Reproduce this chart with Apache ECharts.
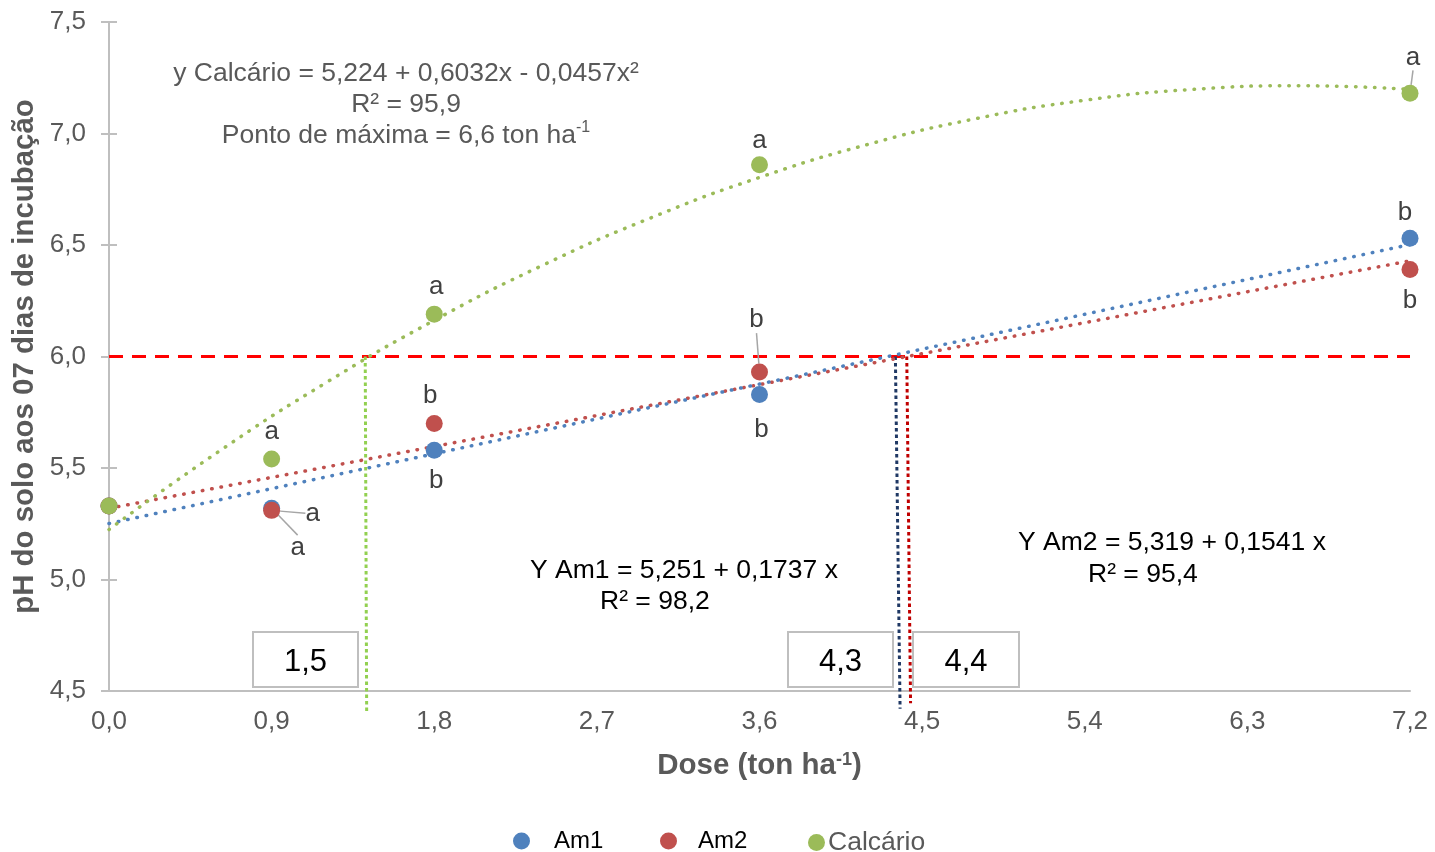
<!DOCTYPE html>
<html>
<head>
<meta charset="utf-8">
<script src="https://cdn.jsdelivr.net/npm/echarts@6/dist/echarts.min.js"></script>
<style>
  html, body { margin: 0; padding: 0; background: #fff; }
  #chart { width: 1435px; height: 852px; }
</style>
</head>
<body>
<div id="chart"></div>
<script>
// ---- data ----
const doses = [0, 0.9, 1.8, 3.6, 7.2];
const am1 = [5.33, 5.32, 5.58, 5.83, 6.53];
const am2 = [5.33, 5.31, 5.70, 5.93, 6.39];
const calcario = [5.33, 5.54, 6.19, 6.86, 7.18];
const lettersAm1 = ['', 'a', 'b', 'b', 'b'];
const lettersAm2 = ['', 'a', 'b', 'b', 'b'];
const lettersCal = ['', 'a', 'a', 'a', 'a'];

// fitted lines (from the equations printed on the chart)
const linX = [0, 7.2];
const trendAm1 = [5.251, 6.502];
const trendAm2 = [5.319, 6.429];
const calTrendX = [0, 0.6, 1.2, 1.8, 2.4, 3.0, 3.6, 4.2, 4.8, 5.4, 6.0, 6.6, 7.2];
const calTrendY = [5.224, 5.570, 5.882, 6.162, 6.409, 6.622, 6.803, 6.951, 7.067, 7.149, 7.198, 7.214, 7.198];

// reference pH line and crossing doses
const limitX = [0, 7.2];
const limitY = [6.0, 6.0];
const crossCalX = [1.418, 1.426], crossCalY = [6.0, 4.4];
const crossAm1X = [4.352, 4.378], crossAm1Y = [6.0, 4.42];
const crossAm2X = [4.415, 4.436], crossAm2Y = [6.0, 4.445];
const boxLabels = ['1,5', '4,3', '4,4'];

const xTicks = { min: 0, max: 7.2, interval: 0.9 };
const yTicks = { min: 4.5, max: 7.5, interval: 0.5 };

// ---- styles ----
const FONT = "'Liberation Sans', Arial, sans-serif";
const BLUE = '#4F81BD', RED = '#C0504D', GREEN = '#9BBB59';
const GRAY = '#595959';
const labelOffsets = {
  am1: [null, [26, 40], [2, 31], [2, 35], [-5, -25]],
  am2: [null, [41, 3], [-4, -28], [-3, -52], [0, 31]],
  cal: [null, [0, -27], [2, -27], [0, -24], [3, -36]]
};
const leaderOn = { am1: [false, true, false, false, false], am2: [false, true, false, true, false], cal: [false, false, false, false, true] };

const pair = (xs, ys) => xs.map((x, i) => [x, ys[i]]);
const fmt = v => v.toFixed(1).replace('.', ',');

function pointData(ys, letters, key) {
  return doses.map((x, i) => {
    const off = labelOffsets[key][i];
    const d = { value: [x, ys[i]] };
    if (letters[i] && off) {
      d.label = { show: true, position: 'inside', align: 'center', verticalAlign: 'middle', offset: off, formatter: letters[i] };
      d.labelLine = { show: leaderOn[key][i], lineStyle: { color: '#A6A6A6', width: 1.5 } };
    } else {
      d.label = { show: false };
    }
    return d;
  });
}

function scatter(name, ys, letters, key, color) {
  return {
    name, type: 'scatter', symbol: 'circle', symbolSize: 17, z: 10,
    itemStyle: { color, opacity: 1 },
    label: { color: '#404040', fontSize: 26, fontFamily: FONT },
    emphasis: { disabled: true },
    data: pointData(ys, letters, key)
  };
}

function dotLine(xs, ys, color, smooth) {
  return {
    type: 'line', silent: true, showSymbol: false, symbol: 'none', smooth: !!smooth, z: 5,
    lineStyle: { color, width: 3.5, type: [0.5, 9], cap: 'round' },
    data: pair(xs, ys)
  };
}

function refLine(xs, ys, color, dash, width) {
  return {
    type: 'line', silent: true, showSymbol: false, symbol: 'none', clip: false, z: 4,
    lineStyle: { color, width, type: dash, cap: 'butt' },
    data: pair(xs, ys)
  };
}

const chart = echarts.init(document.getElementById('chart'), null, { renderer: 'canvas' });

function legendItem(name, left, textStyle) {
  return {
    data: [name], left, top: 824, icon: 'circle', itemWidth: 17, itemHeight: 17,
    selectedMode: false, textStyle: Object.assign({ fontFamily: FONT }, textStyle)
  };
}

function boxGraphic(x, y, w, h, txt) {
  return {
    type: 'group', z: 100,
    children: [
      { type: 'rect', shape: { x, y, width: w, height: h }, style: { fill: '#fff', stroke: '#BFBFBF', lineWidth: 2 } },
      { type: 'text', x: x + w / 2, y: y + h / 2 + 3, style: { text: txt, fill: '#000', font: '31px ' + FONT, align: 'center', verticalAlign: 'middle' } }
    ]
  };
}

function txt(x, y, text, fill, align) {
  return { type: 'text', x, y, z: 100, style: { text, fill, font: '26.5px ' + FONT, align: align || 'left', verticalAlign: 'middle' } };
}

const option = {
  animation: false,
  backgroundColor: '#fff',
  textStyle: { fontFamily: FONT },
  grid: { left: 109, right: 25, top: 22, bottom: 161 },
  xAxis: {
    type: 'value', min: xTicks.min, max: xTicks.max, interval: xTicks.interval,
    splitLine: { show: false },
    axisLine: { lineStyle: { color: '#BFBFBF', width: 2 } },
    axisTick: { show: false },
    axisLabel: { formatter: fmt, fontSize: 26, color: GRAY, margin: 18, fontFamily: FONT },
    name: '{b|Dose (ton ha}{s|-1}{b|)}', nameLocation: 'middle', nameGap: 60,
    nameTextStyle: {
      rich: {
        b: { fontSize: 29.5, fontWeight: 'bold', color: GRAY, fontFamily: FONT },
        s: { fontSize: 18, fontWeight: 'bold', color: GRAY, fontFamily: FONT, verticalAlign: 'top' }
      }
    }
  },
  yAxis: [{
    type: 'value', min: yTicks.min, max: yTicks.max, interval: yTicks.interval,
    splitLine: { show: false },
    axisLine: { show: true, lineStyle: { color: '#BFBFBF', width: 2 } },
    axisTick: { show: true, length: 8, lineStyle: { color: '#BFBFBF', width: 2 } },
    axisLabel: { formatter: fmt, fontSize: 26, color: GRAY, margin: 23, fontFamily: FONT },
    name: 'pH do solo aos 07 dias de incubação', nameLocation: 'middle', nameGap: 58,
    nameTextStyle: { fontSize: 29.4, fontWeight: 'bold', color: GRAY, fontFamily: FONT }
  }, {
    type: 'value', min: yTicks.min, max: yTicks.max, interval: yTicks.interval, position: 'left',
    splitLine: { show: false }, axisLine: { show: false }, axisLabel: { show: false },
    axisTick: { show: true, inside: true, length: 8, lineStyle: { color: '#BFBFBF', width: 2 } }
  }],
  legend: [
    legendItem('Am1', 508, { color: '#000', fontSize: 24, padding: [0, 0, 0, 19] }),
    legendItem('Am2', 655, { color: '#000', fontSize: 24, padding: [0, 0, 4, 16] }),
    legendItem('Calcário', 803, { color: GRAY, fontSize: 26.5, padding: [0, 0, 0, -2] })
  ],
  series: [
    refLine(limitX, limitY, '#FF0000', [14, 9], 3),
    refLine(crossCalX, crossCalY, '#92D050', [3.5, 3], 3),
    refLine(crossAm1X, crossAm1Y, '#1F3864', [3.5, 3], 3),
    refLine(crossAm2X, crossAm2Y, '#C00000', [3.5, 3], 3),
    dotLine(linX, trendAm2, RED),
    dotLine(linX, trendAm1, BLUE),
    dotLine(calTrendX, calTrendY, GREEN, true),
    scatter('Am1', am1, lettersAm1, 'am1', BLUE),
    scatter('Am2', am2, lettersAm2, 'am2', RED),
    scatter('Calcário', calcario, lettersCal, 'cal', GREEN)
  ],
  graphic: [
    {
      type: 'text', x: 406, y: 58, z: 100,
      style: {
        text: 'y Calcário = 5,224 + 0,6032x - 0,0457x²\nR² = 95,9\nPonto de máxima = 6,6 ton ha{s|-1}',
        fill: GRAY, font: '26.5px ' + FONT, align: 'center', verticalAlign: 'top', lineHeight: 31,
        rich: { s: { fontSize: 16, fill: GRAY, verticalAlign: 'top', lineHeight: 31 } }
      }
    },
    txt(530, 571, 'Y Am1 = 5,251 + 0,1737 x', '#000'),
    txt(600, 602, 'R² = 98,2', '#000'),
    txt(1018, 543, 'Y Am2 = 5,319 + 0,1541 x', '#000'),
    txt(1088, 575, 'R² = 95,4', '#000'),
    boxGraphic(253, 632, 105, 55, boxLabels[0]),
    boxGraphic(788, 632, 105, 55, boxLabels[1]),
    boxGraphic(913, 632, 106, 55, boxLabels[2])
  ]
};

chart.setOption(option);
</script>
</body>
</html>
